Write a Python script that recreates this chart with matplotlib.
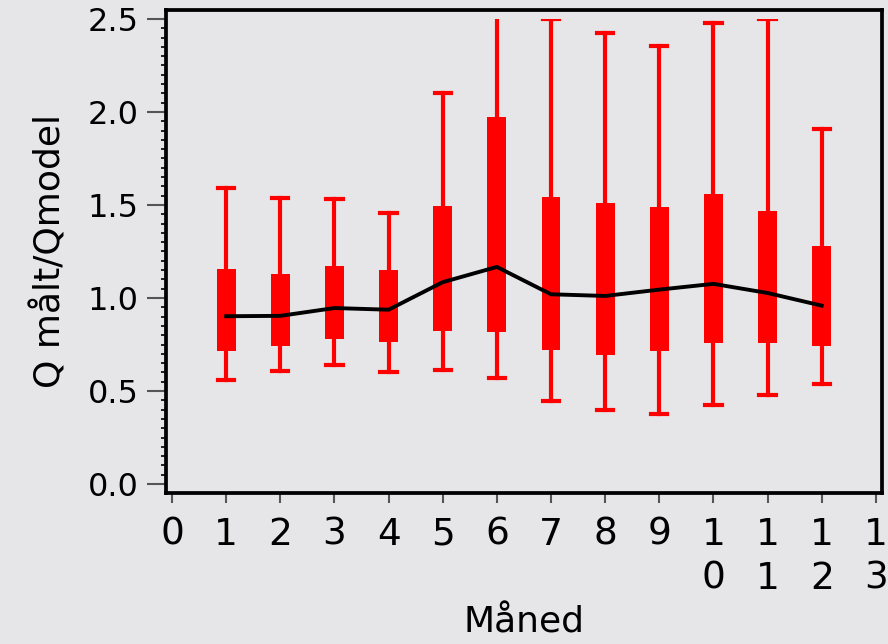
import numpy as np
import matplotlib.pyplot as plt
from matplotlib.patches import Rectangle
from matplotlib.ticker import MultipleLocator, FormatStrFormatter

# month number and the box statistics
months = [1, 2, 3, 4, 5, 6, 7, 8, 9, 10, 11, 12]
q_max = [1.59, 1.54, 1.53, 1.455, 2.10, 2.60, 2.50, 2.425, 2.355, 2.48, 2.50, 1.91]
q_upper = [1.158, 1.131, 1.173, 1.153, 1.494, 1.974, 1.543, 1.510, 1.489, 1.557, 1.469, 1.282]
q_lower = [0.713, 0.740, 0.781, 0.761, 0.824, 0.817, 0.722, 0.693, 0.715, 0.756, 0.756, 0.740]
q_min = [0.557, 0.607, 0.639, 0.600, 0.614, 0.571, 0.447, 0.399, 0.377, 0.426, 0.480, 0.537]
centre = [0.902, 0.904, 0.946, 0.937, 1.085, 1.167, 1.020, 1.011, 1.045, 1.076, 1.027, 0.959]

x_ticks = list(range(14))
x_labels = ['0', '1', '2', '3', '4', '5', '6', '7', '8', '9',
            '1\n0', '1\n1', '1\n2', '1\n3']
y_ticks = [0.0, 0.5, 1.0, 1.5, 2.0, 2.5]

bg = '#e6e6e8'

fig = plt.figure(figsize=(8.88, 6.44), dpi=100, facecolor=bg)
ax = fig.add_axes([0.187, 0.2345, 0.806, 0.75])
ax.set_facecolor(bg)

stats = [dict(med=m, q1=lo, q3=hi, whislo=mn, whishi=mx, fliers=[])
         for m, lo, hi, mn, mx in zip(centre, q_lower, q_upper, q_min, q_max)]
parts = ax.bxp(stats, positions=months, widths=0.35, capwidths=0.3,
               patch_artist=True, showfliers=False,
               boxprops=dict(facecolor='red', edgecolor='red', linewidth=0),
               whiskerprops=dict(color='red', linewidth=3),
               capprops=dict(color='red', linewidth=3),
               medianprops=dict(linewidth=0))

# data area stops at 2.5, the frame sits a little outside it
clip = Rectangle((0, 0), 13, 2.5, transform=ax.transData)
for key in ('whiskers', 'caps', 'boxes'):
    for a in parts[key]:
        a.set_clip_path(clip)

ax.plot(months, centre, color='black', linewidth=2.8, zorder=5)

ax.set_xlim(-0.11, 13.11)
ax.set_ylim(-0.048, 2.548)
ax.set_xticks(x_ticks)
ax.set_xticklabels(x_labels, fontsize=27, linespacing=1.3)
ax.set_yticks(y_ticks)
ax.yaxis.set_major_formatter(FormatStrFormatter('%.1f'))
ax.yaxis.set_minor_locator(MultipleLocator(0.05))
ax.tick_params(axis='y', which='major', labelsize=23, length=14, width=1.5,
               color='#555555', pad=6)
ax.tick_params(axis='y', which='minor', length=3.5, width=1.2, color='black')
ax.tick_params(axis='x', which='major', length=7, width=1.5,
               color='#555555', pad=10)

for s in ax.spines.values():
    s.set_linewidth(2.7)
    s.set_color('black')

ax.set_xlabel('Måned', fontsize=26, labelpad=6)
ax.set_ylabel('Q målt/Qmodel', fontsize=26, labelpad=14)

fig.savefig('out.png', dpi=100, facecolor=bg)
